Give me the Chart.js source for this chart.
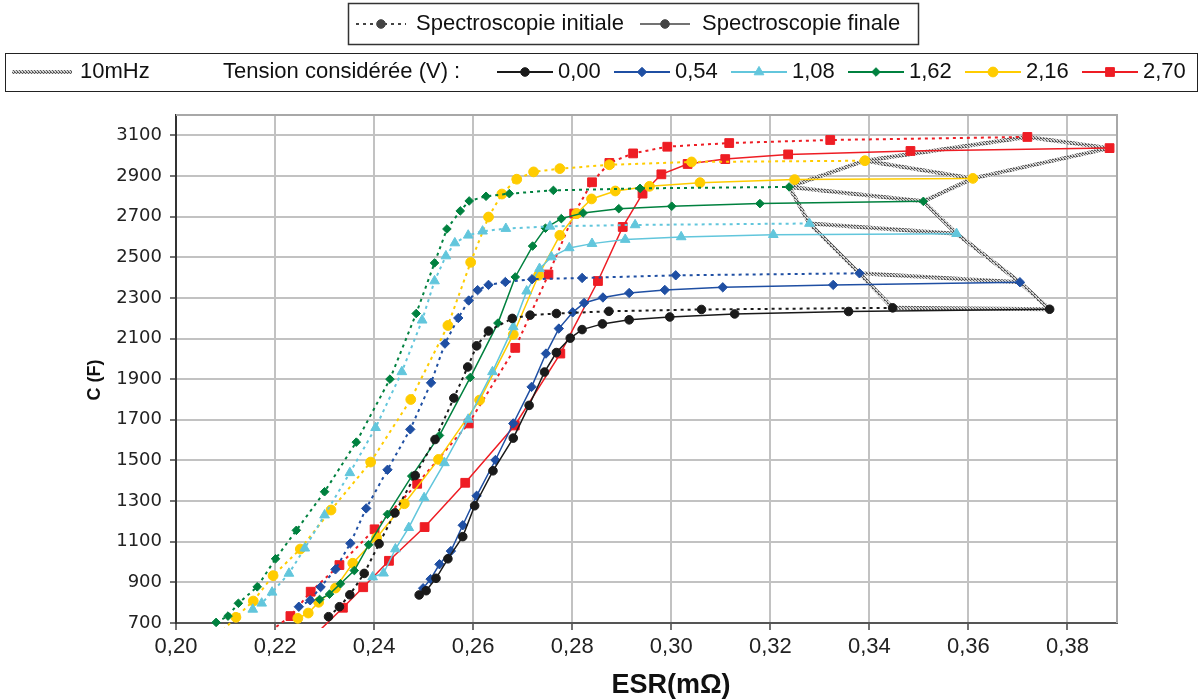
<!DOCTYPE html>
<html lang="fr">
<head>
<meta charset="UTF-8">
<title>C (F) en fonction de l'ESR</title>
<script src="https://cdn.jsdelivr.net/npm/chart.js"></script>
<style>
  html, body { margin: 0; padding: 0; background: #fff; }
</style>
</head>
<body>
<canvas id="chart" width="1204" height="700"></canvas>
<script>
// axis ticks
const xTicks = [0.20, 0.22, 0.24, 0.26, 0.28, 0.30, 0.32, 0.34, 0.36, 0.38];
const yTicks = [700, 900, 1100, 1300, 1500, 1700, 1900, 2100, 2300, 2500, 2700, 2900, 3100];

const voltages = ['0,00', '0,54', '1,08', '1,62', '2,16', '2,70'];

// 0,00 V
const esr000Init = [0.2308, 0.2330, 0.2351, 0.2380, 0.2410, 0.2442, 0.2483, 0.2523, 0.2561, 0.2589, 0.2607, 0.2631, 0.2679, 0.2715, 0.2768, 0.2874, 0.3061, 0.3447];
const c000Init   = [731, 780, 839, 944, 1090, 1242, 1426, 1603, 1807, 1960, 2064, 2137, 2199, 2215, 2223, 2234, 2243, 2251];
const esr000Fin  = [0.2491, 0.2505, 0.2525, 0.2549, 0.2579, 0.2603, 0.2640, 0.2681, 0.2713, 0.2744, 0.2768, 0.2796, 0.2820, 0.2861, 0.2915, 0.2997, 0.3128, 0.3358, 0.3764];
const c000Fin    = [838, 859, 920, 1016, 1125, 1277, 1449, 1610, 1771, 1935, 2031, 2102, 2144, 2172, 2192, 2206, 2221, 2233, 2244];

// 0,54 V
const esr054Init = [0.2248, 0.2271, 0.2292, 0.2322, 0.2352, 0.2384, 0.2427, 0.2473, 0.2515, 0.2543, 0.2570, 0.2591, 0.2609, 0.2631, 0.2665, 0.2719, 0.2820, 0.3009, 0.3380];
const c054Init   = [780, 812, 877, 964, 1092, 1264, 1454, 1653, 1882, 2075, 2201, 2287, 2338, 2364, 2378, 2392, 2398, 2411, 2421];
const esr054Fin  = [0.2499, 0.2514, 0.2532, 0.2555, 0.2579, 0.2607, 0.2645, 0.2681, 0.2718, 0.2747, 0.2773, 0.2801, 0.2824, 0.2862, 0.2915, 0.2987, 0.3104, 0.3327, 0.3704];
const c054Fin    = [871, 916, 989, 1054, 1181, 1326, 1502, 1682, 1862, 2026, 2149, 2229, 2275, 2302, 2324, 2339, 2352, 2364, 2377];

// 1,08 V
const esr108Init = [0.2155, 0.2173, 0.2194, 0.2228, 0.2260, 0.2300, 0.2351, 0.2403, 0.2456, 0.2497, 0.2522, 0.2545, 0.2563, 0.2590, 0.2619, 0.2666, 0.2755, 0.2927, 0.3279];
const c108Init   = [767, 797, 851, 944, 1068, 1231, 1439, 1661, 1936, 2190, 2383, 2506, 2570, 2608, 2628, 2641, 2652, 2659, 2666];
const esr108Fin  = [0.2397, 0.2419, 0.2443, 0.2470, 0.2501, 0.2542, 0.2590, 0.2639, 0.2681, 0.2708, 0.2734, 0.2758, 0.2794, 0.2840, 0.2907, 0.3020, 0.3206, 0.3576];
const c108Fin    = [926, 945, 1064, 1169, 1316, 1488, 1702, 1936, 2157, 2333, 2444, 2501, 2546, 2567, 2587, 2600, 2611, 2616];

// 1,62 V
const esr162Init = [0.2081, 0.2105, 0.2126, 0.2164, 0.2201, 0.2243, 0.2300, 0.2364, 0.2432, 0.2485, 0.2522, 0.2547, 0.2574, 0.2592, 0.2626, 0.2673, 0.2762, 0.2937, 0.3238];
const c162Init   = [703, 734, 797, 878, 1016, 1156, 1346, 1590, 1900, 2223, 2472, 2639, 2728, 2777, 2800, 2813, 2829, 2839, 2846];
const esr162Fin  = [0.2290, 0.2310, 0.2332, 0.2360, 0.2389, 0.2427, 0.2476, 0.2532, 0.2594, 0.2650, 0.2685, 0.2720, 0.2746, 0.2778, 0.2822, 0.2894, 0.3001, 0.3179, 0.3509];
const c162Fin    = [816, 842, 893, 958, 1085, 1235, 1423, 1623, 1908, 2176, 2403, 2555, 2643, 2690, 2718, 2739, 2751, 2764, 2775];

// 2,16 V
const esr216Init = [0.2085, 0.2121, 0.2156, 0.2196, 0.2251, 0.2313, 0.2393, 0.2474, 0.2549, 0.2595, 0.2631, 0.2658, 0.2688, 0.2722, 0.2775, 0.2875, 0.3041, 0.3391];
const c216Init   = [640, 728, 808, 933, 1064, 1256, 1492, 1800, 2164, 2475, 2698, 2811, 2884, 2920, 2936, 2955, 2969, 2975];
const esr216Fin  = [0.2246, 0.2267, 0.2288, 0.2322, 0.2357, 0.2405, 0.2461, 0.2530, 0.2613, 0.2681, 0.2732, 0.2775, 0.2809, 0.2839, 0.2887, 0.2956, 0.3058, 0.3249, 0.3609];
const c216Fin    = [723, 749, 802, 872, 994, 1120, 1287, 1505, 1797, 2120, 2411, 2608, 2715, 2787, 2826, 2849, 2867, 2882, 2888];

// 2,70 V
const esr270Init = [0.2180, 0.2231, 0.2272, 0.2330, 0.2401, 0.2487, 0.2591, 0.2685, 0.2752, 0.2804, 0.2840, 0.2875, 0.2923, 0.2992, 0.3117, 0.3321, 0.3719];
const c270Init   = [640, 734, 854, 985, 1161, 1385, 1682, 2054, 2415, 2715, 2869, 2964, 3011, 3044, 3062, 3077, 3092];
const esr270Fin  = [0.2280, 0.2337, 0.2378, 0.2430, 0.2502, 0.2584, 0.2684, 0.2776, 0.2852, 0.2902, 0.2942, 0.2980, 0.3033, 0.3109, 0.3236, 0.3483, 0.3885];
const c270Fin    = [640, 775, 876, 1006, 1172, 1390, 1672, 2026, 2383, 2649, 2813, 2908, 2959, 2983, 3006, 3023, 3037];

const initSeries = [[esr000Init, c000Init], [esr054Init, c054Init], [esr108Init, c108Init], [esr162Init, c162Init], [esr216Init, c216Init], [esr270Init, c270Init]];
const finSeries  = [[esr000Fin, c000Fin], [esr054Fin, c054Fin], [esr108Fin, c108Fin], [esr162Fin, c162Fin], [esr216Fin, c216Fin], [esr270Fin, c270Fin]];

const colors = ['#1a1a1a', '#1f4fa3', '#62c6dc', '#00813f', '#ffcc00', '#ee1d24'];
const shapes = ['circle', 'rectRot', 'triangle', 'rectRot', 'circle', 'rect'];
const radii  = [4.3, 4.7, 5.6, 4.3, 4.9, 6.2];

const FONT = "'Liberation Sans', Arial, sans-serif";
const NARROW = "'Liberation Sans Narrow', 'Liberation Sans', Arial, sans-serif";
const YMIN = 700;

function pts(xs, ys) {
    return xs.map((x, i) => ({ x: x, y: ys[i] }));
}

// grey stippled pattern used for the 10mHz line
function hatch() {
    const c = document.createElement('canvas');
    c.width = 3; c.height = 3;
    const g = c.getContext('2d');
    g.fillStyle = '#d4d4d4';
    g.fillRect(0, 0, 3, 3);
    g.fillStyle = '#5c5c5c';
    g.fillRect(0, 0, 1, 1); g.fillRect(1, 1, 1, 1); g.fillRect(2, 2, 1, 1);
    g.fillRect(2, 0, 1, 1);
    return g.createPattern(c, 'repeat');
}
const greyPattern = hatch();

const datasets = [];

function serie(s, i, dashed) {
    const r = radii[i];
    return {
        label: (dashed ? 'initiale ' : 'finale ') + voltages[i],
        data: pts(s[0], s[1]),
        showLine: true,
        borderColor: colors[i],
        backgroundColor: colors[i],
        borderWidth: dashed ? 2 : 1.5,
        borderDash: dashed ? [3, 4] : [],
        pointStyle: shapes[i],
        pointRadius: ctx => (ctx.raw && ctx.raw.y < YMIN ? 0 : r),
        pointBorderWidth: 1,
        pointBorderColor: colors[i],
        pointBackgroundColor: colors[i],
        clip: { left: 10, top: 10, right: 10, bottom: 5 },
        order: 1
    };
}

for (let i = 0; i < 6; i++) {
    datasets.push(serie(finSeries[i], i, false));
    datasets.push(serie(initSeries[i], i, true));
}

// 10mHz points = last point of each curve
const lastInit = initSeries.map(s => ({ x: s[0][s[0].length - 1], y: s[1][s[1].length - 1] }));
const lastFin = finSeries.map(s => ({ x: s[0][s[0].length - 1], y: s[1][s[1].length - 1] }));

function greyLine(data) {
    return {
        label: '10mHz',
        data: data,
        showLine: true,
        borderColor: greyPattern,
        borderWidth: 4,
        pointRadius: 0,
        order: 10
    };
}
datasets.push(greyLine(lastInit));
datasets.push(greyLine(lastFin));
for (let i = 0; i < 6; i++) {
    datasets.push(greyLine([lastInit[i], lastFin[i]]));
}

function sample(ctx, x, y, w, color, dash, width, shape, r) {
    ctx.save();
    ctx.strokeStyle = color;
    ctx.lineWidth = width;
    ctx.setLineDash(dash);
    ctx.beginPath();
    ctx.moveTo(x, y);
    ctx.lineTo(x + w, y);
    ctx.stroke();
    ctx.setLineDash([]);
    if (shape) {
        ctx.fillStyle = color;
        ctx.lineWidth = 1;
        Chart.helpers.drawPoint(ctx, { pointStyle: shape, radius: r, borderWidth: 1, rotation: 0 }, x + w / 2, y);
    }
    ctx.restore();
}

const decor = {
    id: 'decor',
    beforeDatasetsDraw(chart) {
        const a = chart.chartArea;
        const ctx = chart.ctx;
        ctx.save();
        ctx.strokeStyle = '#a8a8a8';
        ctx.lineWidth = 2;
        ctx.beginPath();
        ctx.moveTo(a.left, a.top);
        ctx.lineTo(a.right, a.top);
        ctx.lineTo(a.right, a.bottom);
        ctx.stroke();
        ctx.restore();
    },
    afterDraw(chart) {
        const ctx = chart.ctx;
        const a = chart.chartArea;
        ctx.save();
        ctx.textBaseline = 'middle';
        ctx.fillStyle = '#111';

        // axis titles
        ctx.font = 'bold 27px ' + NARROW;
        ctx.textAlign = 'center';
        ctx.fillText('ESR(mΩ)', a.left + 495, 686);
        ctx.save();
        ctx.translate(95, 380);
        ctx.rotate(-Math.PI / 2);
        ctx.font = 'bold 18px ' + FONT;
        ctx.fillText('C (F)', 0, 0);
        ctx.restore();

        ctx.textAlign = 'left';
        ctx.font = '22px ' + FONT;

        // box 1 : initial / final
        ctx.strokeStyle = '#333';
        ctx.lineWidth = 1.5;
        ctx.strokeRect(348.5, 3.5, 570, 41);
        let y = 24;
        sample(ctx, 356, y, 50, '#444', [3, 4], 2, 'circle', 4.3);
        ctx.fillText('Spectroscopie initiale', 416, y);
        sample(ctx, 640, y, 50, '#444', [], 1.5, 'circle', 4.3);
        ctx.fillText('Spectroscopie finale', 702, y);

        // box 2 : 10mHz + voltages
        ctx.strokeStyle = '#222';
        ctx.lineWidth = 1;
        ctx.strokeRect(5.5, 53.5, 1192, 38);
        y = 72;
        sample(ctx, 12, y, 60, greyPattern, [], 4, null, 0);
        ctx.fillText('10mHz', 80, y);
        ctx.fillText('Tension considérée (V) :', 223, y);
        for (let i = 0; i < 6; i++) {
            const x = 497 + i * 117;
            sample(ctx, x, y, 56, colors[i], [], 2, shapes[i], radii[i]);
            ctx.fillText(voltages[i], x + 61, y);
        }
        ctx.restore();
    }
};

new Chart(document.getElementById('chart'), {
    type: 'scatter',
    data: { datasets: datasets },
    options: {
        responsive: false,
        animation: false,
        events: [],
        layout: { padding: { top: 115, right: 87, left: 0, bottom: 0 } },
        plugins: { legend: { display: false }, tooltip: { enabled: false } },
        scales: {
            x: {
                type: 'linear',
                min: 0.2,
                max: 0.39,
                afterBuildTicks: s => { s.ticks = xTicks.map(v => ({ value: v })); },
                afterFit: s => { s.height = 77; },
                ticks: {
                    callback: v => v.toFixed(2).replace('.', ','),
                    font: { family: NARROW, size: 22 },
                    color: '#222',
                    padding: 4,
                    maxRotation: 0,
                    autoSkip: false
                },
                grid: { color: '#c2c2c2', lineWidth: 2, tickLength: 7, tickColor: '#444', tickWidth: 1.5 },
                border: { color: '#555', width: 2 }
            },
            y: {
                min: 700,
                max: 3200,
                afterBuildTicks: s => { s.ticks = yTicks.map(v => ({ value: v })); },
                afterFit: s => { s.width = 176; },
                ticks: {
                    callback: v => String(v),
                    font: { family: "'DejaVu Sans', sans-serif", size: 18 },
                    color: '#222',
                    padding: 8,
                    autoSkip: false
                },
                grid: { color: '#c2c2c2', lineWidth: 2, tickLength: 6, tickColor: '#444', tickWidth: 1.5 },
                border: { color: '#333', width: 2 }
            }
        }
    },
    plugins: [decor]
});
</script>
</body>
</html>
